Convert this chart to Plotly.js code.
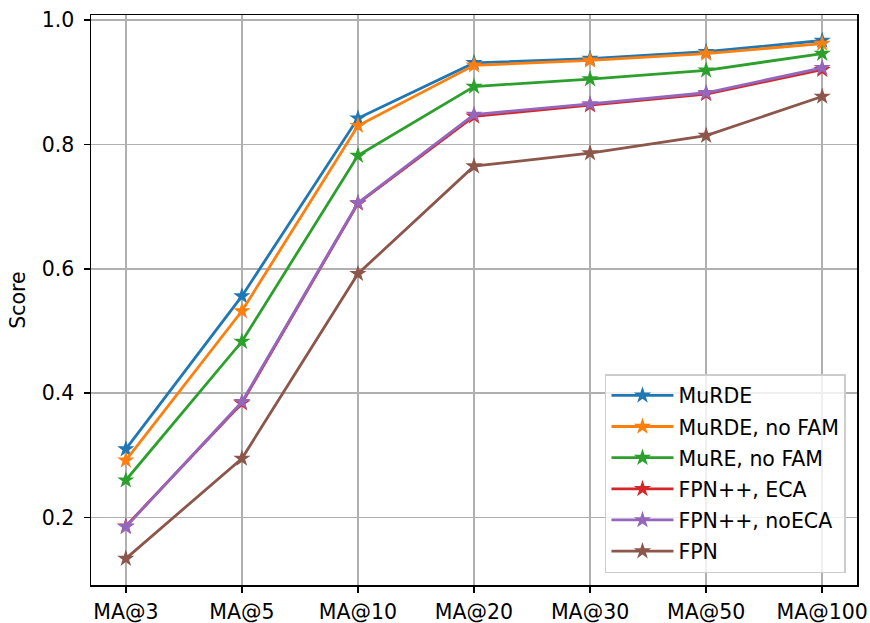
<!DOCTYPE html>
<html><head><meta charset="utf-8">
<script src="https://cdn.plot.ly/plotly-3.0.1.min.js"></script>
<style>html,body{margin:0;padding:0;background:#fff}#chart{width:870px;height:623px}</style>
</head><body><div id="chart"></div>
<script>
const categories = ["MA@3","MA@5","MA@10","MA@20","MA@30","MA@50","MA@100"];
const seriesNames = ["MuRDE","MuRDE, no FAM","MuRE, no FAM","FPN++, ECA","FPN++, noECA","FPN"];
const murde       = [0.310, 0.556, 0.842, 0.931, 0.938, 0.949, 0.967];
const murdeNoFam  = [0.292, 0.532, 0.830, 0.927, 0.935, 0.946, 0.962];
const mureNoFam   = [0.260, 0.483, 0.782, 0.893, 0.905, 0.919, 0.946];
const fpnppEca    = [0.186, 0.384, 0.705, 0.845, 0.863, 0.881, 0.920];
const fpnppNoEca  = [0.185, 0.386, 0.706, 0.848, 0.865, 0.883, 0.923];
const fpn         = [0.134, 0.295, 0.592, 0.765, 0.786, 0.814, 0.877];
const colors = ["#1f77b4","#ff7f0e","#2ca02c","#d62728","#9467bd","#8c564b"];
const allSeries = [murde, murdeNoFam, mureNoFam, fpnppEca, fpnppNoEca, fpn];
const xIdx = categories.map((_, i) => i);

const traces = allSeries.map((ys, k) => ({
  x: xIdx, y: ys, name: seriesNames[k], type: "scatter", mode: "lines+markers",
  legendgroup: "g" + k,
  line: {color: colors[k], width: 2.8},
  marker: {symbol: "star", size: 13, color: colors[k], line: {width: 0}}
}));

const FS = 20.5;
function F(s) { return {family: "DejaVu Sans", size: s, color: "#000000"}; }
const layout = {
  width: 870, height: 623,
  margin: {l: 91, r: 13, t: 15, b: 38},
  paper_bgcolor: "#fff", plot_bgcolor: "#fff",
  font: F(FS),
  showlegend: true,
  xaxis: {
    range: [-0.3, 6.3], tickmode: "array", tickvals: xIdx, ticktext: categories,
    showgrid: true, gridcolor: "#b0b0b0", gridwidth: 1.5,
    showline: true, linecolor: "#000", linewidth: 1.5, mirror: true,
    ticks: "outside", ticklen: 6, tickwidth: 1.5, tickcolor: "#000",
    zeroline: false, tickfont: F(FS), automargin: false, ticklabelstandoff: 2
  },
  yaxis: {
    range: [0.0916, 1.008], tickmode: "array", tickvals: [0.2,0.4,0.6,0.8,1.0],
    ticktext: ["0.2","0.4","0.6","0.8","1.0"],
    showgrid: true, gridcolor: "#b0b0b0", gridwidth: 1.5,
    showline: true, linecolor: "#000", linewidth: 1.5, mirror: true,
    ticks: "outside", ticklen: 6, tickwidth: 1.5, tickcolor: "#000",
    zeroline: false, tickfont: F(FS), automargin: false, ticklabelstandoff: 5,
    title: {text: "Score", font: F(FS), standoff: 10}
  },
  legend: {
    x: 0.9856, y: 0.021, xanchor: "right", yanchor: "bottom",
    bgcolor: "rgba(255,255,255,0.8)", bordercolor: "#cccccc", borderwidth: 1.5,
    font: F(FS), tracegroupgap: 1.5, itemwidth: 62
  }
};
Plotly.newPlot("chart", traces, layout, {displayModeBar: false, staticPlot: true});
</script></body></html>
